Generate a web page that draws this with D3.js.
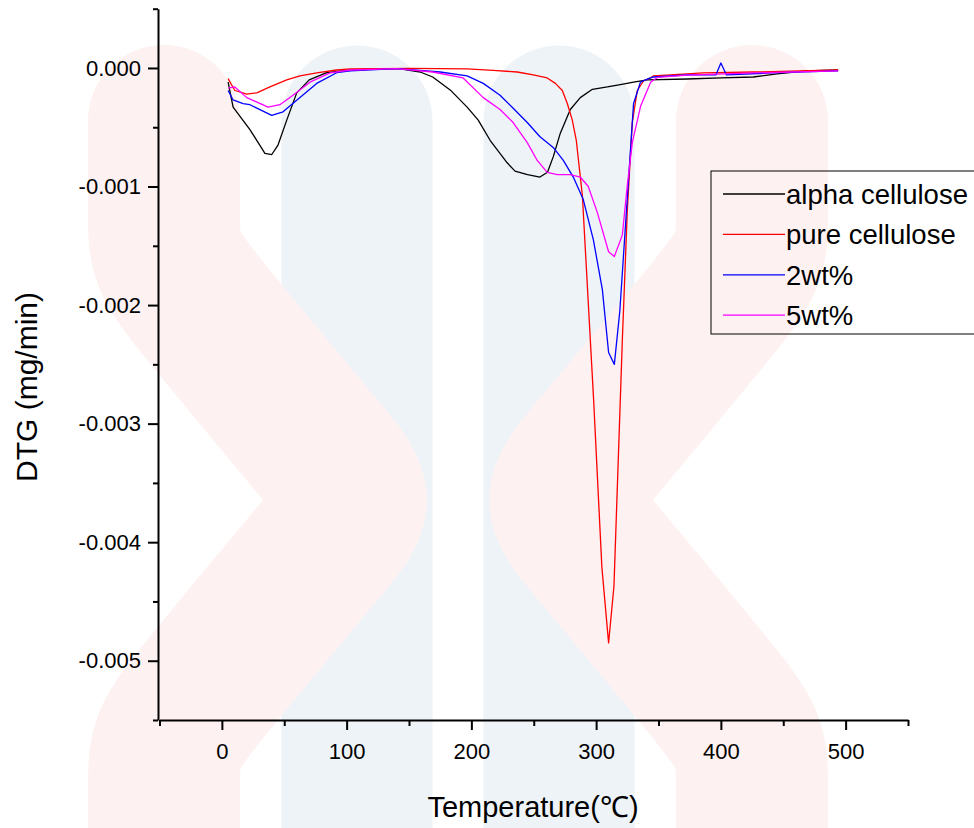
<!DOCTYPE html>
<html>
<head>
<meta charset="utf-8">
<script src="https://cdn.jsdelivr.net/npm/d3@7"></script>
<style>
body { margin: 0; background: #fff; }
text { font-family: Arial, "Liberation Sans", sans-serif; fill: #000; }
</style>
</head>
<body>
<svg id="chart" width="974" height="828"></svg>
<script>
"use strict";

// DTG curves, [temperature in C, DTG in mg/min]
var alphaCellulose = [
    [5, -0.00012], [9, -0.00033], [22.5, -0.00052], [34.5, -0.00072], [40, -0.00073],
    [45, -0.00065], [52, -0.00044], [60, -0.00021], [70, -0.0001], [84, -0.00004],
    [103, -0.000017], [130, -0.000005], [143, -0.000008], [159, -0.000034], [169, -0.000076],
    [183, -0.000185], [196.6, -0.00033], [205.5, -0.00044], [215, -0.00061], [228.7, -0.0008],
    [235, -0.00087], [245, -0.0009], [255, -0.00092], [261, -0.00088], [265.6, -0.00075],
    [271.3, -0.00055], [279.3, -0.00035], [287.3, -0.00025], [297, -0.00018], [309, -0.00016],
    [319.4, -0.00014], [330, -0.00012], [341, -0.0001], [373, -0.000093], [400, -0.000084],
    [426, -0.000076], [445, -0.00005], [469, -0.000025], [494, -0.000017]
];
var pureCellulose = [
    [5, -0.00009], [10.4, -0.00019], [20, -0.00022], [28, -0.00021], [38.5, -0.00016],
    [52, -0.0001], [62.6, -0.000067], [76, -0.000042], [92, -0.000017], [103, -0.000008],
    [150, -0.000003], [196.6, -0.000008], [217.5, -0.00002], [236.8, -0.000034], [249.6, -0.000059],
    [260.8, -0.000084], [267.3, -0.00013], [272.9, -0.00019], [276.9, -0.0003], [280.9, -0.00044],
    [284.1, -0.00061], [286.5, -0.00084], [289, -0.00108], [298, -0.0028], [304.6, -0.00421],
    [310, -0.00485], [314.3, -0.00437], [321, -0.0023], [325, -0.0012], [329, -0.00046],
    [333, -0.00019], [338, -0.00011], [343.5, -0.000084], [346, -0.000067], [386, -0.000042],
    [426, -0.000034], [494, -0.000017]
];
var wt2 = [
    [5, -0.00019], [9, -0.00027], [17, -0.0003], [22.5, -0.00031], [40, -0.0004],
    [49, -0.00037], [62.6, -0.00025], [76, -0.00013], [92, -0.00004], [103, -0.000025],
    [140, -0.000005], [175, -0.000034], [196.6, -0.000067], [209.5, -0.00013], [223, -0.00023],
    [233.5, -0.00034], [244.8, -0.00046], [255, -0.00058], [265.6, -0.00067], [273.7, -0.00078],
    [281.7, -0.00092], [289.7, -0.00111], [297.8, -0.00145], [305, -0.00187], [310, -0.0024],
    [314.6, -0.0025], [319, -0.00205], [330, -0.0003], [335.5, -0.00012], [342, -0.00009],
    [346, -0.000076], [373, -0.000059], [396, -0.000059], [400, 0.000042], [404.5, -0.000059],
    [440, -0.000042], [494, -0.000025]
];
var wt5 = [
    [5, -0.00017], [10.4, -0.00016], [20, -0.00025], [37, -0.00033], [46.5, -0.00031],
    [57, -0.00023], [70.6, -0.00012], [86.7, -0.000042], [103, -0.000017], [140, -0.000005],
    [169, -0.000034], [193.4, -0.000084], [209.5, -0.00025], [223, -0.00035], [233.5, -0.00046],
    [244.8, -0.00063], [252.8, -0.00078], [260.8, -0.00088], [268.9, -0.0009], [279.3, -0.0009],
    [287.3, -0.00092], [293.7, -0.001], [301, -0.00122], [310, -0.00155], [314.6, -0.00159],
    [321, -0.00141], [325, -0.00099], [329, -0.00063], [335.7, -0.00032], [343.7, -0.00012],
    [349, -0.00008], [373, -0.00006], [426, -0.000042], [494, -0.000025]
];

var seriesNames = ["alpha cellulose", "pure cellulose", "2wt%", "5wt%"];
var seriesData = [alphaCellulose, pureCellulose, wt2, wt5];
var seriesColors = ["#000000", "#ff0000", "#0000ff", "#ff00ff"];

var xTicksMajor = [0, 100, 200, 300, 400, 500];
var xTicksMinor = [-50, 50, 150, 250, 350, 450, 550];
var yTicksMajor = [-0.005, -0.004, -0.003, -0.002, -0.001, 0];
var yTicksMinor = [-0.0055, -0.0045, -0.0035, -0.0025, -0.0015, -0.0005, 0.0005];

var svg = d3.select("#chart");
svg.append("rect").attr("width", 974).attr("height", 828).attr("fill", "#fff");

/* faint logo watermark behind the plot */
var mark = svg.append("g").attr("fill", "none").attr("stroke-linejoin", "round");
var straight = d3.line();
var smooth = d3.line().curve(d3.curveBasis);
[357, 559].forEach(function(cx){
    mark.append("path")
        .attr("d", straight([[cx, 121], [cx, 900]]))
        .attr("stroke", "#eef3f8").attr("stroke-width", 151).attr("stroke-linecap", "round");
});
[[164, 1], [752, -1]].forEach(function(p){
    var c = p[0], s = p[1], tip = c + s * 200;
    mark.append("path")
        .attr("d", smooth([[c, 121], [c, 121], [c, 220], [c, 260], [c + s * 40, 310],
                           [tip - s * 40, 455], [tip, 500], [tip - s * 40, 545],
                           [c + s * 40, 690], [c, 740], [c, 780], [c, 900], [c, 900]]))
        .attr("stroke", "#fdf1f1").attr("stroke-width", 152).attr("stroke-linecap", "round");
});

var x = d3.scaleLinear().domain([-50, 550]).range([159.5, 908]);
var y = d3.scaleLinear().domain([-0.0055, 0.0005]).range([720, 8.7]);

/* axes */
function styleAxis(g){
    g.select(".domain").attr("stroke", "#000").attr("stroke-width", 2);
    g.selectAll(".tick line").attr("stroke", "#000").attr("stroke-width", 2);
    g.selectAll("text").attr("font-size", 22).attr("fill", "#000")
        .attr("font-family", "Arial, 'Liberation Sans', sans-serif");
}

svg.append("g").attr("transform", "translate(0,720)")
    .call(d3.axisBottom(x).tickValues(xTicksMinor).tickSize(6).tickSizeOuter(0).tickFormat(""))
    .call(styleAxis);
svg.append("g").attr("transform", "translate(0,720)")
    .call(d3.axisBottom(x).tickValues(xTicksMajor).tickSize(10).tickPadding(13).tickSizeOuter(0)
        .tickFormat(function(d){ return d; }))
    .call(styleAxis)
    .call(function(g){ g.select(".domain").remove(); });

svg.append("g").attr("transform", "translate(158,0)")
    .call(d3.axisLeft(y).tickValues(yTicksMinor).tickSize(5).tickSizeOuter(0).tickFormat(""))
    .call(styleAxis);
svg.append("g").attr("transform", "translate(158,0)")
    .call(d3.axisLeft(y).tickValues(yTicksMajor).tickSize(10).tickPadding(7).tickSizeOuter(0)
        .tickFormat(function(d){ return d.toFixed(3); }))
    .call(styleAxis)
    .call(function(g){ g.select(".domain").remove(); });

/* axis titles */
svg.append("text")
    .attr("transform", "translate(37,387) rotate(-90)")
    .attr("text-anchor", "middle")
    .attr("font-size", 30)
    .text("DTG (mg/min)");

svg.append("text")
    .attr("x", 533).attr("y", 817)
    .attr("text-anchor", "middle")
    .attr("font-size", 29)
    .text("Temperature(℃)");

/* curves */
var line = d3.line()
    .x(function(d){ return x(d[0]); })
    .y(function(d){ return y(d[1]); });

seriesData.forEach(function(data, i){
    svg.append("path")
        .datum(data)
        .attr("fill", "none")
        .attr("stroke", seriesColors[i])
        .attr("stroke-width", 1.3)
        .attr("stroke-linejoin", "round")
        .attr("d", line);
});

/* legend */
var legend = svg.append("g").attr("transform", "translate(711,171)");
legend.append("rect")
    .attr("width", 300).attr("height", 163)
    .attr("fill", "none").attr("stroke", "#000").attr("stroke-width", 1);

seriesNames.forEach(function(name, i){
    var ly = 23 + i * 40.4;
    legend.append("line")
        .attr("x1", 12).attr("x2", 74).attr("y1", ly).attr("y2", ly)
        .attr("stroke", seriesColors[i]).attr("stroke-width", 1.3);
    legend.append("text")
        .attr("x", 75).attr("y", ly + 10)
        .attr("font-size", 27.5)
        .text(name);
});
</script>
</body>
</html>
